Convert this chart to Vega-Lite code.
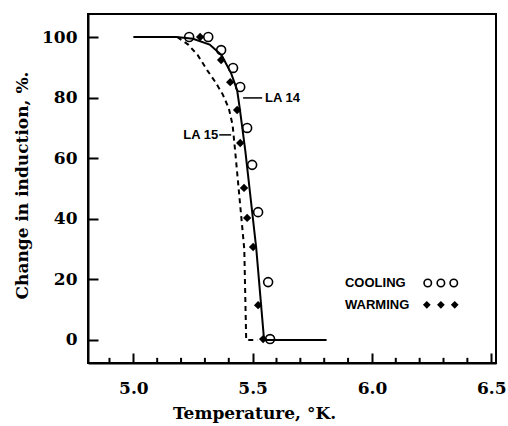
{
  "$schema": "https://vega.github.io/schema/vega-lite/v6.json",
  "width": 408,
  "height": 349,
  "autosize": {"type": "none"},
  "padding": {"left": 88, "top": 14, "right": 12, "bottom": 63},
  "background": "white",
  "config": {
    "view": {"stroke": "black", "strokeWidth": 2},
    "axis": {
      "domainColor": "black", "domainWidth": 2,
      "labelFont": "DejaVu Serif", "labelFontWeight": "bold", "labelFontSize": 17, "labelColor": "black",
      "titleFont": "DejaVu Serif", "titleFontWeight": "bold", "titleFontSize": 17, "titleColor": "black",
      "grid": false
    }
  },
  "datasets": {
    "la14": [
      {"T": 5.0, "v": 100}, {"T": 5.18, "v": 100}, {"T": 5.25, "v": 99.4}, {"T": 5.32, "v": 97.5},
      {"T": 5.37, "v": 94}, {"T": 5.41, "v": 88}, {"T": 5.435, "v": 82.5}, {"T": 5.445, "v": 77},
      {"T": 5.469, "v": 62.7}, {"T": 5.515, "v": 30.4}, {"T": 5.548, "v": 0}, {"T": 5.81, "v": 0}
    ],
    "la15": [
      {"T": 5.184, "v": 100}, {"T": 5.23, "v": 97.5}, {"T": 5.27, "v": 94}, {"T": 5.31, "v": 89},
      {"T": 5.345, "v": 85}, {"T": 5.375, "v": 81}, {"T": 5.4, "v": 76.5}, {"T": 5.416, "v": 71},
      {"T": 5.426, "v": 63}, {"T": 5.465, "v": 30}, {"T": 5.473, "v": 0}, {"T": 5.52, "v": 0}
    ],
    "cooling": [
      {"T": 5.234, "v": 100}, {"T": 5.314, "v": 100}, {"T": 5.368, "v": 95.7}, {"T": 5.418, "v": 89.8},
      {"T": 5.448, "v": 83.5}, {"T": 5.477, "v": 70}, {"T": 5.498, "v": 57.8}, {"T": 5.523, "v": 42.2},
      {"T": 5.565, "v": 19.1}, {"T": 5.573, "v": 0.3}
    ],
    "warming": [
      {"T": 5.28, "v": 100}, {"T": 5.368, "v": 92.4}, {"T": 5.406, "v": 85.1}, {"T": 5.435, "v": 75.9},
      {"T": 5.448, "v": 65}, {"T": 5.464, "v": 50.2}, {"T": 5.477, "v": 40.3}, {"T": 5.502, "v": 30.7},
      {"T": 5.523, "v": 11.5}, {"T": 5.544, "v": 0.3}
    ],
    "minorTicks": [
      {"T": 4.9}, {"T": 5.1}, {"T": 5.2}, {"T": 5.3}, {"T": 5.4}, {"T": 5.6}, {"T": 5.7},
      {"T": 5.8}, {"T": 5.9}, {"T": 6.1}, {"T": 6.2}, {"T": 6.3}, {"T": 6.4}
    ],
    "pointers": [
      {"T": 5.46, "T2": 5.54, "v": 79.9},
      {"T": 5.36, "T2": 5.41, "v": 67.7}
    ],
    "labelsLeft": [
      {"T": 5.552, "v": 79.9, "label": "LA 14"},
      {"T": 5.887, "v": 18.8, "label": "COOLING"},
      {"T": 5.887, "v": 11.6, "label": "WARMING"}
    ],
    "labelsRight": [
      {"T": 5.356, "v": 67.7, "label": "LA 15"}
    ],
    "legendCool": [
      {"T": 6.234, "v": 18.8}, {"T": 6.289, "v": 18.8}, {"T": 6.343, "v": 18.8}
    ],
    "legendWarm": [
      {"T": 6.23, "v": 11.6}, {"T": 6.289, "v": 11.6}, {"T": 6.347, "v": 11.6}
    ]
  },
  "layer": [
    {
      "data": {"name": "la14"},
      "mark": {"type": "line", "color": "black", "strokeWidth": 2},
      "encoding": {
        "x": {"field": "T", "type": "quantitative",
          "scale": {"domain": [4.81, 6.52], "nice": false, "zero": false},
          "axis": {"values": [5.0, 5.5, 6.0, 6.5], "format": ".1f",
            "tickSize": -10, "tickColor": "black", "tickWidth": 2, "tickOpacity": 1,
            "labelPadding": 27, "labelFlush": false,
            "title": "Temperature, °K.", "titleX": 166, "titleY": 50, "titleBaseline": "middle"}},
        "y": {"field": "v", "type": "quantitative",
          "scale": {"domain": [-7.6, 107.6], "nice": false, "zero": false},
          "axis": {"values": [0, 20, 40, 60, 80, 100], "tickSize": -10, "tickColor": "black", "tickWidth": 2, "tickOpacity": 1,
            "labelPadding": 21,
            "title": "Change in induction, %.", "titleX": -66, "titleY": 171, "titleBaseline": "middle"}}
      }
    },
    {
      "data": {"name": "la15"},
      "mark": {"type": "line", "color": "black", "strokeWidth": 2, "strokeDash": [5, 4]},
      "encoding": {
        "x": {"field": "T", "type": "quantitative"},
        "y": {"field": "v", "type": "quantitative"}
      }
    },
    {
      "data": {"name": "minorTicks"},
      "mark": {"type": "rule", "color": "black", "strokeWidth": 2},
      "encoding": {
        "x": {"field": "T", "type": "quantitative"},
        "y": {"datum": -7.6},
        "y2": {"datum": -5.9}
      }
    },
    {
      "data": {"name": "pointers"},
      "mark": {"type": "rule", "color": "black", "strokeWidth": 1.5},
      "encoding": {
        "x": {"field": "T", "type": "quantitative"},
        "x2": {"field": "T2"},
        "y": {"field": "v", "type": "quantitative"}
      }
    },
    {
      "data": {"name": "cooling"},
      "mark": {"type": "point", "shape": "circle", "filled": false, "color": "black", "strokeWidth": 1.6, "size": 80, "opacity": 1},
      "encoding": {
        "x": {"field": "T", "type": "quantitative"},
        "y": {"field": "v", "type": "quantitative"}
      }
    },
    {
      "data": {"name": "warming"},
      "mark": {"type": "point", "shape": "diamond", "filled": true, "color": "black", "size": 70, "opacity": 1},
      "encoding": {
        "x": {"field": "T", "type": "quantitative"},
        "y": {"field": "v", "type": "quantitative"}
      }
    },
    {
      "data": {"name": "legendCool"},
      "mark": {"type": "point", "shape": "circle", "filled": false, "color": "black", "strokeWidth": 1.6, "size": 55, "opacity": 1},
      "encoding": {
        "x": {"field": "T", "type": "quantitative"},
        "y": {"field": "v", "type": "quantitative"}
      }
    },
    {
      "data": {"name": "legendWarm"},
      "mark": {"type": "point", "shape": "diamond", "filled": true, "color": "black", "size": 60, "opacity": 1},
      "encoding": {
        "x": {"field": "T", "type": "quantitative"},
        "y": {"field": "v", "type": "quantitative"}
      }
    },
    {
      "data": {"name": "labelsLeft"},
      "mark": {"type": "text", "align": "left", "baseline": "middle", "font": "Liberation Sans", "fontWeight": "bold", "fontSize": 13, "color": "black"},
      "encoding": {
        "x": {"field": "T", "type": "quantitative"},
        "y": {"field": "v", "type": "quantitative"},
        "text": {"field": "label"}
      }
    },
    {
      "data": {"name": "labelsRight"},
      "mark": {"type": "text", "align": "right", "baseline": "middle", "font": "Liberation Sans", "fontWeight": "bold", "fontSize": 13, "color": "black"},
      "encoding": {
        "x": {"field": "T", "type": "quantitative"},
        "y": {"field": "v", "type": "quantitative"},
        "text": {"field": "label"}
      }
    }
  ]
}
